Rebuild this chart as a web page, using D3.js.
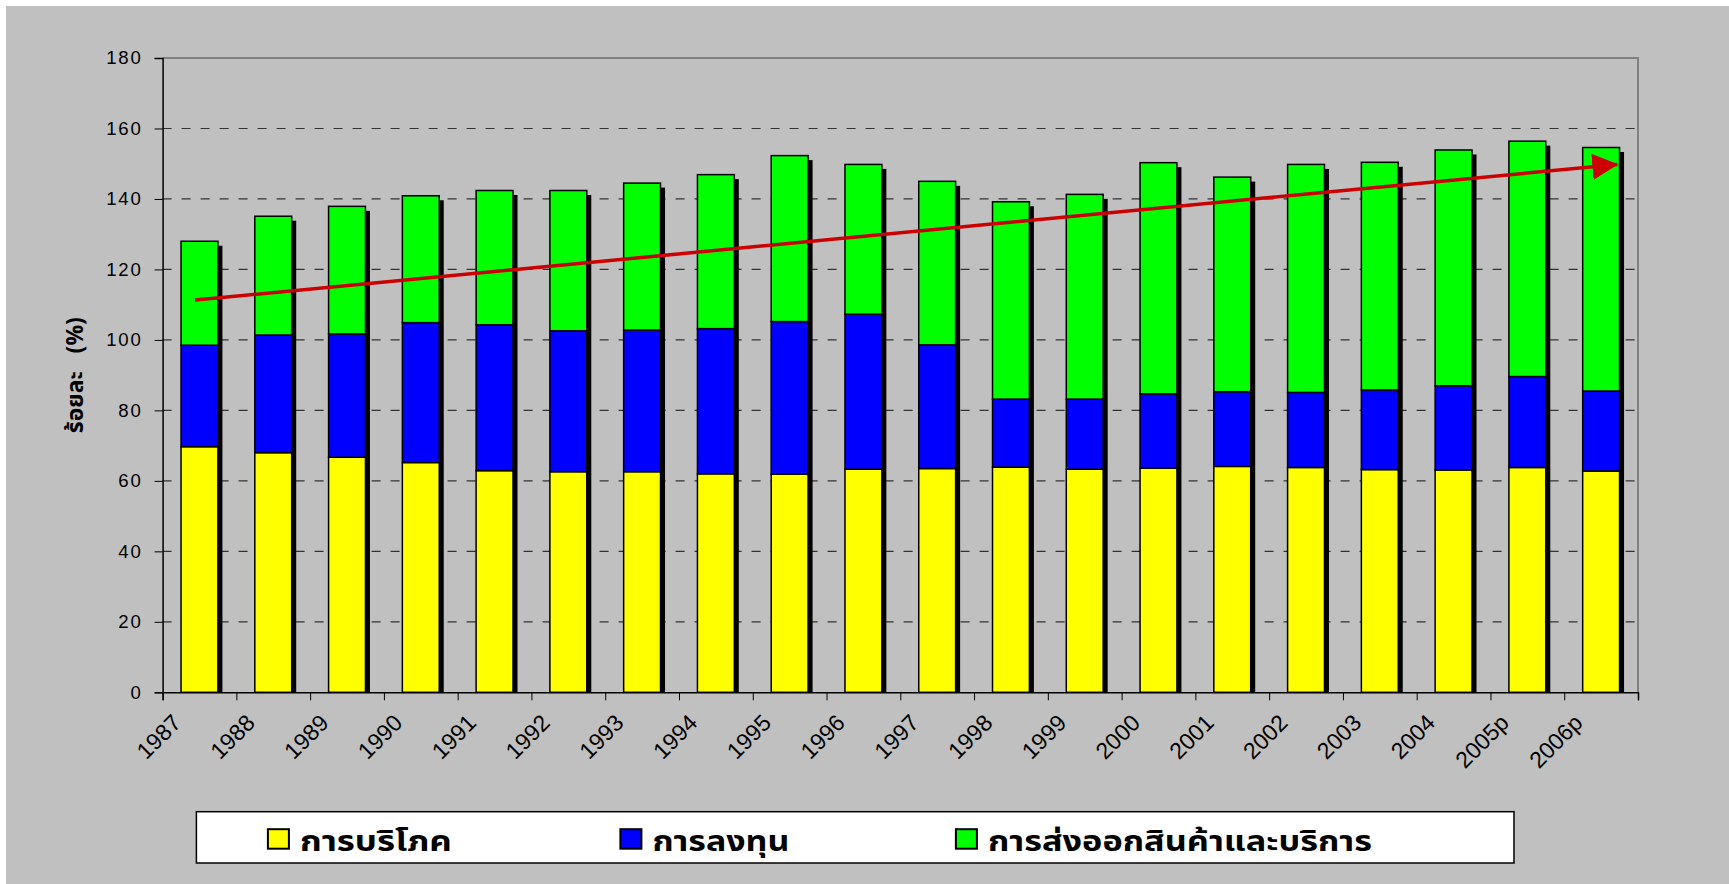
<!DOCTYPE html>
<html>
<head>
<meta charset="utf-8">
<script src="https://cdn.jsdelivr.net/npm/d3@7"></script>
<style>
  body { margin: 0; background: #fff; }
  svg { display: block; }
  text { font-family: "Liberation Sans", Arial, sans-serif; }
  .thai { font-family: Tahoma, "Noto Sans Thai", "Loma", "Garuda", "Noto Sans", sans-serif; font-weight: bold; }
</style>
</head>
<body>
<div id="chart"></div>
<script>
// chart values
var years = ["1987", "1988", "1989", "1990", "1991", "1992", "1993", "1994", "1995", "1996",
  "1997", "1998", "1999", "2000", "2001", "2002", "2003", "2004", "2005p", "2006p"];
var consumption = [69.7, 68.0, 66.7, 65.2, 62.9, 62.6, 62.6, 62.0, 61.9, 63.3,
  63.5, 63.9, 63.3, 63.6, 64.1, 63.8, 63.2, 63.1, 63.8, 62.8];
var investment = [28.8, 33.4, 35.0, 39.7, 41.4, 40.0, 40.2, 41.2, 43.3, 44.0,
  35.1, 19.3, 19.9, 21.1, 21.2, 21.3, 22.6, 23.9, 25.8, 22.7];
var exports = [29.5, 33.7, 36.2, 36.0, 38.1, 39.8, 41.7, 43.7, 47.1, 42.5,
  46.4, 56.0, 58.1, 65.6, 60.9, 64.7, 64.6, 66.9, 66.8, 69.1];
var seriesNames = ["การบริโภค", "การลงทุน", "การส่งออกสินค้าและบริการ"];
var seriesColors = ["#FFFF00", "#0000FF", "#00FF00"];
var yTicks = [0, 20, 40, 60, 80, 100, 120, 140, 160, 180];
// trend arrow: position in category units, value in %
var trendPos = [0.44, 19.72];
var trendVal = [111.3, 149.8];

var W = 1729, H = 884;
var plotL = 162.6, plotR = 1638, plotT = 58, plotB = 692.3;

var svg = d3.select("#chart").append("svg")
  .attr("width", W)
  .attr("height", H);

svg.append("rect")
  .attr("x", 6).attr("y", 6)
  .attr("width", W - 6).attr("height", H - 6)
  .attr("fill", "#C0C0C0");

var x = d3.scaleBand().domain(years).range([plotL, plotR])
  .paddingInner(0.5).paddingOuter(0.25);
var xPos = d3.scaleLinear().domain([0, years.length]).range([plotL, plotR]);
var y = d3.scaleLinear().domain([0, 180]).range([plotB, plotT]);

// gridlines
svg.append("g").selectAll("line")
  .data(yTicks.filter(function(d) { return d > 0 && d < 180; }))
  .enter().append("line")
  .attr("x1", plotL).attr("x2", plotR)
  .attr("y1", function(d) { return y(d); })
  .attr("y2", function(d) { return y(d); })
  .attr("stroke", "#333")
  .attr("stroke-width", 1.2)
  .attr("stroke-dasharray", "9,10");

// plot frame top/right
svg.append("path")
  .attr("d", "M" + plotL + "," + plotT + "H" + plotR + "V" + plotB)
  .attr("fill", "none")
  .attr("stroke", "#808080")
  .attr("stroke-width", 2);

// stacked data
var table = years.map(function(yr, i) {
  return { year: yr, c: consumption[i], inv: investment[i], ex: exports[i] };
});
var stack = d3.stack().keys(["c", "inv", "ex"])(table);

// shadows first
var sh = 4.5;
svg.append("g").selectAll("rect")
  .data(table)
  .enter().append("rect")
  .attr("x", function(d) { return x(d.year) + sh; })
  .attr("y", function(d) { return y(d.c + d.inv + d.ex) + sh; })
  .attr("width", x.bandwidth())
  .attr("height", function(d) { return y(0) - y(d.c + d.inv + d.ex) - sh; })
  .attr("fill", "#000");

svg.append("g").selectAll("g")
  .data(stack)
  .enter().append("g")
  .attr("fill", function(d, i) { return seriesColors[i]; })
  .selectAll("rect")
  .data(function(d) { return d; })
  .enter().append("rect")
  .attr("x", function(d) { return x(d.data.year); })
  .attr("y", function(d) { return y(d[1]); })
  .attr("width", x.bandwidth())
  .attr("height", function(d) { return y(d[0]) - y(d[1]); })
  .attr("stroke", "#000")
  .attr("stroke-width", 1.5);

// axes
var yAxis = svg.append("g")
  .attr("transform", "translate(" + plotL + ",0)")
  .call(d3.axisLeft(y).tickValues(yTicks).tickSize(8).tickPadding(12));
yAxis.select(".domain").attr("stroke", "#000").attr("stroke-width", 1.5);
yAxis.selectAll("text")
  .attr("fill", "#000")
  .style("font-size", "18.6px")
  .style("letter-spacing", "1.8px");

var xAxis = svg.append("g")
  .attr("transform", "translate(0," + plotB + ")")
  .call(d3.axisBottom(xPos).tickValues(d3.range(0, years.length + 1)).tickSize(8).tickFormat(""));
xAxis.select(".domain").attr("stroke", "#000").attr("stroke-width", 1.5);

svg.append("g").selectAll("text")
  .data(years)
  .enter().append("text")
  .attr("transform", function(d) {
    return "translate(" + (x(d) + x.bandwidth() / 2 - 17) + "," + (plotB + 32) + ") rotate(-45)";
  })
  .attr("text-anchor", "end")
  .style("font-size", "23px")
  .attr("fill", "#000")
  .text(function(d) { return d; });

// y title
svg.append("text")
  .attr("class", "thai")
  .attr("transform", "translate(83," + ((plotT + plotB) / 2) + ") rotate(-90)")
  .attr("text-anchor", "middle")
  .style("font-size", "23px")
  .style("white-space", "pre")
  .attr("fill", "#000")
  .text("ร้อยละ   (%)");

// trend arrow
svg.append("defs").append("marker")
  .attr("id", "arrow")
  .attr("markerUnits", "userSpaceOnUse")
  .attr("markerWidth", 26).attr("markerHeight", 26)
  .attr("viewBox", "0 0 26 26")
  .attr("refX", 25).attr("refY", 13)
  .attr("orient", "auto")
  .append("path")
  .attr("d", "M0,0 L26,13 L0,26 Z")
  .attr("fill", "#CC0000");

svg.append("line")
  .attr("x1", xPos(trendPos[0])).attr("y1", y(trendVal[0]))
  .attr("x2", xPos(trendPos[1])).attr("y2", y(trendVal[1]))
  .attr("stroke", "#CC0000")
  .attr("stroke-width", 3.5)
  .attr("marker-end", "url(#arrow)");

// legend
var legX = 196.4, legY = 811.7;
svg.append("rect")
  .attr("x", legX).attr("y", legY)
  .attr("width", 1514 - legX).attr("height", 863 - legY)
  .attr("fill", "#fff")
  .attr("stroke", "#000")
  .attr("stroke-width", 1.5);

var legOffsets = [71.5, 424, 759.5];
var legText = [152, 137, 384];
var leg = svg.append("g").selectAll("g")
  .data(seriesNames)
  .enter().append("g")
  .attr("transform", function(d, i) { return "translate(" + (legX + legOffsets[i]) + "," + legY + ")"; });
leg.append("rect")
  .attr("x", 0).attr("y", 17.5)
  .attr("width", 21).attr("height", 19.5)
  .attr("fill", function(d, i) { return seriesColors[i]; })
  .attr("stroke", "#000")
  .attr("stroke-width", 2);
leg.append("text")
  .attr("class", "thai")
  .attr("x", 32).attr("y", 39)
  .attr("textLength", function(d, i) { return legText[i]; })
  .attr("lengthAdjust", "spacingAndGlyphs")
  .style("font-size", "29px")
  .attr("fill", "#000")
  .text(function(d) { return d; });
</script>
</body>
</html>
